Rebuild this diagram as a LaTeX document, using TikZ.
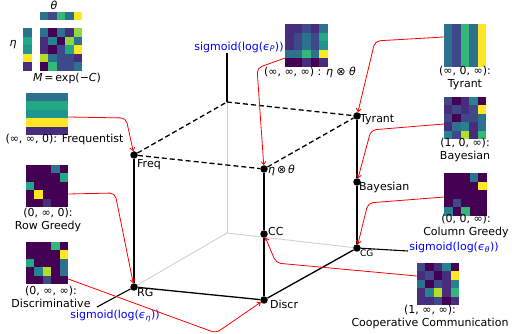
\documentclass[tikz,border=0pt]{standalone}
\usepackage{fontspec}
\setmainfont{DejaVu Sans}
\usetikzlibrary{arrows.meta}
\definecolor{v0}{HTML}{440154}
\definecolor{v1}{HTML}{472D7B}
\definecolor{v2}{HTML}{3E4989}
\definecolor{v3}{HTML}{2C728E}
\definecolor{v4}{HTML}{26828E}
\definecolor{v5}{HTML}{1F968B}
\definecolor{v5a}{HTML}{22A884}
\definecolor{v6}{HTML}{35B779}
\definecolor{v7}{HTML}{8FD744}
\definecolor{v8}{HTML}{B5DE2B}
\definecolor{v9}{HTML}{FDE725}
\definecolor{mplblue}{HTML}{0000FF}
\definecolor{mplred}{HTML}{FF0000}
\newcommand{\heatmap}[5]{%
  \node[minimum width=#3*8.5pt, minimum height=#4*8.5pt, inner sep=0pt, outer sep=0pt] (#1) at (#2) {};
  \foreach \hcc [count=\hk from 0] in {#5} {
    \pgfmathtruncatemacro{\hr}{floor(\hk/#3)}
    \pgfmathtruncatemacro{\hq}{\hk-#3*\hr}
    \fill[\hcc] ([xshift=\hq*8.5pt, yshift=-\hr*8.5pt]#1.north west) rectangle ++(8.52pt,-8.52pt);
  }
}
\begin{document}
\begin{tikzpicture}[x=1pt,y=-1pt,
  every node/.style={font=\fontsize{11}{13}\selectfont, inner sep=0pt},
  lab/.style={align=center},
  dot/.style={circle,fill=black,minimum size=7.5pt,inner sep=0pt},
  edge/.style={line width=1.3pt},
  hid/.style={line width=1.3pt, dash pattern=on 5pt off 3pt},
  gridl/.style={line width=0.9pt, color=black!18},
  axl/.style={line width=1.1pt},
  arr/.style={mplred, line width=0.8pt, rounded corners=5pt, -{Straight Barb[length=3pt,width=5pt]}},
  axlab/.style={text=mplblue},
  clab/.style={anchor=west}]
\useasboundingbox (0,0) rectangle (512,334);

% cube points
\coordinate (o) at (227,233);
\coordinate (bt) at (227,102);
\coordinate (pend) at (227,53);
\coordinate (hend) at (97,307);
\coordinate (tend) at (408,251);

% grey hidden axes
\draw[gridl] (o) -- (134,287);
\draw[gridl] (o) -- (357,248);
\draw[gridl] (o) -- (bt);

\node[dot] (freq) at (134,155) {};
\node[dot] (eta) at (264,169) {};
\node[dot] (tyr) at (357,116) {};
\node[dot] (bay) at (357,182) {};
\node[dot] (cc) at (264,234) {};
\node[dot] (rg) at (134,287) {};
\node[dot] (discr) at (264,300) {};
\node[dot] (cg) at (357,248) {};

\draw[hid] (freq) -- (eta);
\draw[hid] (eta) -- (tyr);
\draw[hid] (freq) -- (bt);
\draw[hid] (bt) -- (tyr);
\draw[edge] (freq) -- (rg);
\draw[edge] (eta) -- (cc);
\draw[edge] (cc) -- (discr);
\draw[edge] (tyr) -- (bay);
\draw[edge] (bay) -- (cg);
\draw[edge] (rg) -- (discr);
\draw[edge] (discr) -- (cg);
\draw[axl] (bt) -- (pend);
\draw[axl] (rg) -- (hend);
\draw[axl] (cg) -- (tend);

% corner labels
\node[clab] (lfreq) at (137,165) {Freq};
\node[clab] (leta) at (268,170) {\textit{η}\,⊗\,\textit{θ}};
\node[clab] (ltyr) at (360,120) {Tyrant};
\node[clab] (lbay) at (359,187) {Bayesian};
\node[clab] (lcc) at (268,231) {CC};
\node[clab] (lrg) at (137,292) {RG};
\node[clab] (ldiscr) at (270,304) {Discr};
\node[clab, font=\fontsize{9}{11}\selectfont] (lcg) at (360,253) {CG};

% axis labels
\node[axlab] (lp) at (239,47) {sigmoid(log(\textit{ϵ}\textsubscript{\textit{P}}))};
\node[axlab] (lh) at (115,316) {sigmoid(log(\textit{ϵ}\textsubscript{\textit{η}}))};
\node[axlab] (lt) at (454,247) {sigmoid(log(\textit{ϵ}\textsubscript{\textit{θ}}))};

% top-left illustration
\heatmap{thetarow}{60.75,16}{5}{1}{v3,v2,v6,v3,v9}
\heatmap{etacol}{27.25,49.75}{1}{5}{v3,v5a,v5,v9,v1}
\heatmap{mmat}{60.75,49.75}{5}{5}{
 v3,v0,v3,v1,v7,
 v1,v4,v0,v7,v3,
 v1,v0,v2,v5a,v9,
 v8,v3,v2,v2,v1,
 v0,v6,v2,v2,v3}
\node (ltheta) at (54,5) {\textit{θ}};
\node (leta2) at (13,45) {\textit{η}};
\node (lm) at (67,78) {\textit{M}\,=\,exp(−\textit{C})};

% frequentist
\heatmap{freqimg}{47,114}{5}{5}{
 v3,v3,v3,v3,v3,
 v5a,v5a,v5a,v5a,v5a,
 v5,v5,v5,v5,v5,
 v9,v9,v9,v9,v9,
 v1,v1,v1,v1,v1}
\node (lfreqimg) at (64.5,139) {(∞, ∞, 0): Frequentist};

% row greedy
\heatmap{rgimg}{47,186}{5}{5}{
 v0,v0,v0,v3,v0,
 v0,v0,v0,v0,v5a,
 v5a,v0,v0,v0,v0,
 v0,v9,v0,v0,v0,
 v0,v0,v1,v0,v0}
\node[lab] (lrgimg) at (48,219.5) {(0, ∞, 0):\\Row Greedy};

% discriminative
\heatmap{discimg}{47,263}{5}{5}{
 v0,v0,v0,v6,v0,
 v0,v0,v0,v0,v9,
 v5a,v0,v0,v0,v3,
 v0,v4,v8,v0,v3,
 v0,v0,v2,v0,v0}
\node[lab] (ldiscimg) at (51,296.5) {(0, ∞, ∞):\\Discriminative};

% eta otimes theta
\heatmap{etaimg}{306.5,45.5}{5}{5}{
 v1,v1,v2,v1,v3,
 v1,v2,v3,v2,v5a,
 v1,v2,v3,v2,v5,
 v3,v3,v6,v3,v9,
 v0,v0,v1,v0,v1}
\node (letaimg) at (310,72) {(∞, ∞, ∞) : \textit{η} ⊗ \textit{θ}};

% tyrant
\heatmap{tyrimg}{465,45.5}{5}{5}{
 v3,v2,v6,v3,v9,
 v3,v2,v6,v3,v9,
 v3,v2,v6,v3,v9,
 v3,v2,v6,v3,v9,
 v3,v2,v6,v3,v9}
\node[lab] (ltyrimg) at (465,78) {(∞, 0, ∞):\\Tyrant};

% bayesian
\heatmap{bayimg}{465,118}{5}{5}{
 v2,v0,v1,v4,v0,
 v1,v2,v1,v2,v9,
 v2,v0,v2,v2,v3,
 v1,v3,v4,v1,v3,
 v4,v2,v8,v1,v6}
\node[lab] (lbayimg) at (465,149.5) {(1, 0, ∞):\\Bayesian};

% column greedy
\heatmap{cgimg}{465.5,194.5}{5}{5}{
 v0,v0,v0,v3,v0,
 v0,v0,v0,v0,v9,
 v0,v0,v0,v0,v0,
 v0,v2,v0,v0,v0,
 v4,v0,v6,v0,v0}
\node[lab] (lcgimg) at (466,226) {(0, 0, ∞):\\Column Greedy};

% cooperative communication
\heatmap{coopimg}{438,284}{5}{5}{
 v2,v0,v1,v4,v0,
 v1,v2,v0,v1,v9,
 v3,v0,v2,v1,v4,
 v1,v4,v8,v1,v6,
 v1,v1,v2,v0,v1}
\node[lab] (lcoopimg) at (430,316.5) {(1, ∞, ∞):\\Cooperative Communication};

% red arrows
\draw[arr] ([yshift=-3pt]freqimg.east) -- (126,118) -- (freq);
\draw[arr] ([yshift=-8pt]rgimg.east) -- (115,193) -- (rg);
\draw[arr] ([yshift=-16pt]discimg.east) -- (216,333) -- (discr);
\draw[arr] ([yshift=-12.5pt]etaimg.west) -- (257,68) -- (eta);
\draw[arr] ([yshift=8.5pt]tyrimg.west) -- (375,41) -- (tyr);
\draw[arr] ([yshift=-6pt]bayimg.west) -- (371,130) -- (bay);
\draw[arr] ([yshift=-2.5pt]cgimg.west) -- (368,203) -- (cg);
\draw[arr] ([yshift=8pt]coopimg.west) -- (276,263) -- (cc);
\end{tikzpicture}
\end{document}
